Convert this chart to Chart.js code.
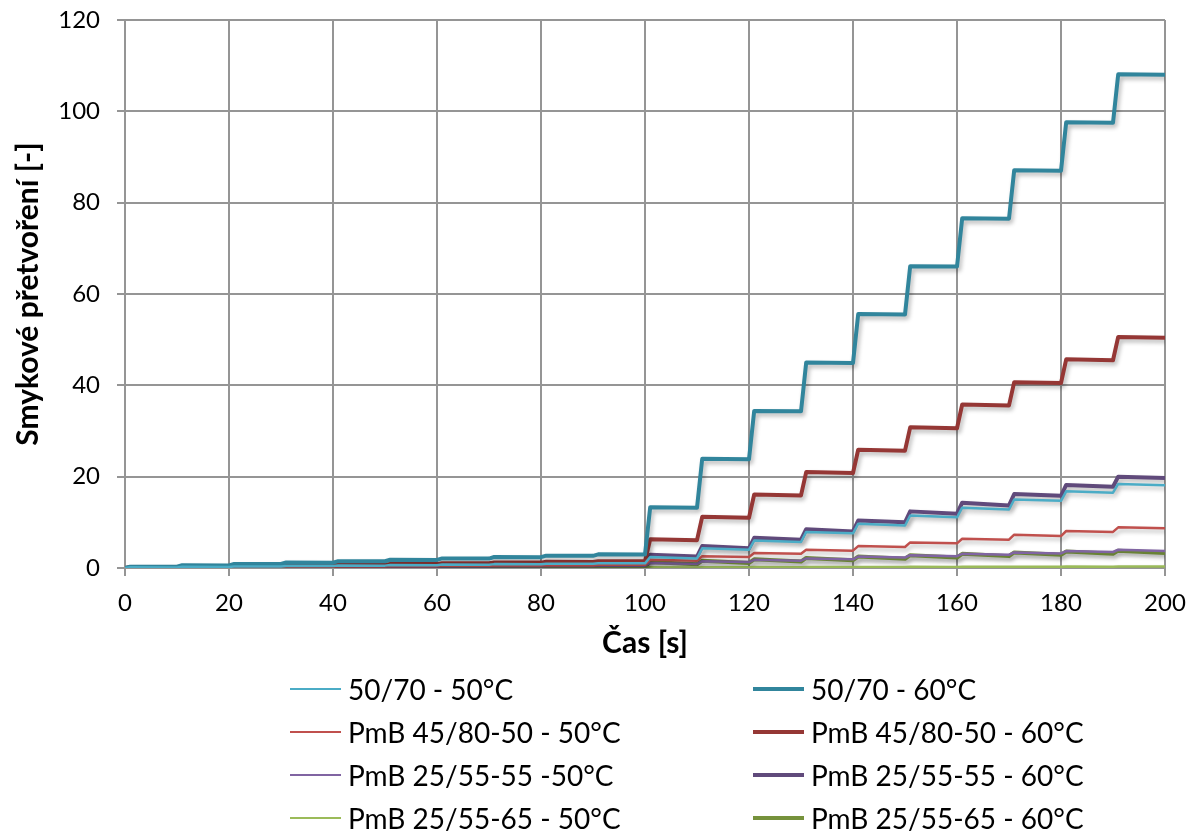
<!DOCTYPE html>
<html>
<head>
<meta charset="utf-8">
<script src="https://cdn.jsdelivr.net/npm/chart.js@4"></script>
<style>
  body { margin: 0; background: #fff; }
  #wrap { position: relative; width: 1188px; height: 834px; }
  .item { position: absolute; height: 40px; display: flex; align-items: center;
          font-family: Lato, "Open Sans", sans-serif; font-size: 28px; color: #000; white-space: nowrap; }
  .item span.ln { display: inline-block; width: 51px; margin-right: 7px; }
</style>
</head>
<body>
<div id="wrap">
  <canvas id="mscrChart" width="1188" height="834"></canvas>
  <div id="legend"></div>
</div>
<script>
// start of each 10 s cycle (1 s creep, 9 s recovery)
const cycleStart = [0, 10, 20, 30, 40, 50, 60, 70, 80, 90, 100, 110, 120, 130, 140, 150, 160, 170, 180, 190];

const names = [
    '50/70 - 50°C', '50/70 - 60°C',
    'PmB 45/80-50 - 50°C', 'PmB 45/80-50 - 60°C',
    'PmB 25/55-55 -50°C', 'PmB 25/55-55 - 60°C',
    'PmB 25/55-65 - 50°C', 'PmB 25/55-65 - 60°C'
];
const colors = ['#4BACC6', '#31859C', '#C0504D', '#953735', '#8064A2', '#604A7B', '#9BBB59', '#76923C'];
const widths = [2.5, 4, 2.5, 4, 2.5, 4, 2.5, 4];

// peak strain at end of creep / strain at end of recovery, per cycle
const peak5070_50 = [0.15, 0.25, 0.35, 0.45, 0.55, 0.65, 0.75, 0.85, 0.95, 1.05, 2.4, 4.3, 6.0, 7.9, 9.7, 11.5, 13.2, 15.0, 16.8, 18.4];
const end5070_50 = [0.12, 0.22, 0.32, 0.42, 0.52, 0.62, 0.72, 0.82, 0.92, 1.02, 2.1, 4.0, 5.7, 7.6, 9.3, 11.1, 12.8, 14.7, 16.5, 18.1];

const peak5070_60 = [0.3, 0.6, 0.9, 1.2, 1.5, 1.8, 2.1, 2.4, 2.7, 3.0, 13.3, 23.9, 34.4, 45.0, 55.6, 66.1, 76.6, 87.1, 97.6, 108.1];
const end5070_60 = [0.28, 0.57, 0.87, 1.17, 1.47, 1.77, 2.07, 2.37, 2.67, 2.97, 13.2, 23.8, 34.3, 44.9, 55.5, 66.0, 76.5, 87.0, 97.5, 108.0];

const peak4580_50 = [0.07, 0.14, 0.21, 0.28, 0.35, 0.42, 0.49, 0.56, 0.63, 0.7, 1.8, 2.6, 3.3, 4.0, 4.8, 5.6, 6.4, 7.3, 8.1, 8.9];
const end4580_50 = [0.06, 0.13, 0.2, 0.27, 0.34, 0.41, 0.48, 0.55, 0.62, 0.69, 1.6, 2.4, 3.1, 3.8, 4.6, 5.4, 6.2, 7.0, 7.9, 8.7];

const peak4580_60 = [0.15, 0.3, 0.45, 0.6, 0.75, 0.9, 1.05, 1.2, 1.35, 1.5, 6.3, 11.2, 16.1, 21.0, 25.9, 30.8, 35.8, 40.7, 45.7, 50.6];
const end4580_60 = [0.13, 0.28, 0.43, 0.58, 0.73, 0.88, 1.03, 1.18, 1.33, 1.48, 6.1, 11.0, 15.9, 20.8, 25.7, 30.6, 35.6, 40.5, 45.5, 50.4];

const peak2555_50 = [0.05, 0.1, 0.15, 0.2, 0.25, 0.3, 0.35, 0.4, 0.45, 0.5, 1.1, 1.5, 1.8, 2.1, 2.5, 2.8, 3.1, 3.4, 3.7, 4.0];
const end2555_50 = [0.04, 0.09, 0.14, 0.19, 0.24, 0.29, 0.34, 0.39, 0.44, 0.49, 0.9, 1.3, 1.6, 1.9, 2.3, 2.6, 2.9, 3.2, 3.5, 3.7];

const peak2555_60 = [0.1, 0.2, 0.3, 0.4, 0.5, 0.6, 0.7, 0.8, 0.9, 1.0, 2.9, 4.8, 6.6, 8.5, 10.4, 12.4, 14.3, 16.2, 18.2, 20.0];
const end2555_60 = [0.09, 0.19, 0.29, 0.39, 0.49, 0.59, 0.69, 0.79, 0.89, 0.99, 2.5, 4.3, 6.2, 8.0, 10.0, 11.9, 13.7, 15.8, 17.8, 19.7];

const peak2565_50 = [0.01, 0.02, 0.03, 0.04, 0.05, 0.06, 0.07, 0.08, 0.09, 0.1, 0.15, 0.18, 0.2, 0.22, 0.24, 0.26, 0.28, 0.3, 0.32, 0.34];
const end2565_50 = [0.01, 0.02, 0.03, 0.04, 0.05, 0.06, 0.07, 0.08, 0.09, 0.1, 0.13, 0.16, 0.18, 0.2, 0.22, 0.24, 0.26, 0.28, 0.3, 0.32];

const peak2565_60 = [0.03, 0.06, 0.09, 0.12, 0.15, 0.18, 0.21, 0.24, 0.27, 0.3, 1.3, 1.6, 1.9, 2.2, 2.5, 2.8, 3.1, 3.4, 3.6, 3.8];
const end2565_60 = [0.02, 0.05, 0.08, 0.11, 0.14, 0.17, 0.2, 0.23, 0.26, 0.29, 0.8, 1.1, 1.4, 1.7, 2.0, 2.3, 2.6, 2.9, 3.1, 3.3];

const xTicks = [0, 20, 40, 60, 80, 100, 120, 140, 160, 180, 200];
const yTicks = [0, 20, 40, 60, 80, 100, 120];

const peaks = [peak5070_50, peak5070_60, peak4580_50, peak4580_60, peak2555_50, peak2555_60, peak2565_50, peak2565_60];
const ends = [end5070_50, end5070_60, end4580_50, end4580_60, end2555_50, end2555_60, end2565_50, end2565_60];

function buildPoints(peak, end) {
    const pts = [{x: 0, y: 0}];
    cycleStart.forEach((t, i) => {
        pts.push({x: t + 1, y: peak[i]});
        pts.push({x: t + 10, y: end[i]});
    });
    return pts;
}

const datasets = names.map((n, i) => ({
    label: n,
    data: buildPoints(peaks[i], ends[i]),
    borderColor: colors[i],
    backgroundColor: colors[i],
    borderWidth: widths[i],
    pointRadius: 0,
    tension: 0,
    borderJoinStyle: 'round',
    fill: false
}));

const shadow = {
    id: 'shadow',
    beforeDatasetsDraw(chart) {
        const c = chart.ctx;
        c.save();
        c.shadowColor = 'rgba(0,0,0,0.28)';
        c.shadowBlur = 4;
        c.shadowOffsetX = 2;
        c.shadowOffsetY = 3;
    },
    afterDatasetsDraw(chart) {
        chart.ctx.restore();
    }
};

const gridColor = '#959595';
const font = 'Lato, "Open Sans", sans-serif';

const ctx = document.getElementById('mscrChart').getContext('2d');
const chart = new Chart(ctx, {
    type: 'line',
    data: { datasets: datasets },
    plugins: [shadow],
    options: {
        responsive: false,
        animation: false,
        layout: { padding: { left: 0, right: 23, top: 20, bottom: 173 } },
        plugins: { legend: { display: false }, tooltip: { enabled: false } },
        scales: {
            x: {
                type: 'linear',
                min: 0, max: 200,
                afterBuildTicks: s => { s.ticks = xTicks.map(v => ({value: v})); },
                afterFit: s => { s.height = 93; s.paddingLeft = 0; s.paddingRight = 0; },
                grid: { color: gridColor, lineWidth: 2, tickLength: 8 },
                border: { color: gridColor, width: 2 },
                ticks: { color: '#000', padding: 13, font: { family: font, size: 24 } },
                title: { display: true, text: 'Čas [s]', color: '#000', padding: { top: 0, bottom: 0 },
                         font: { family: font, size: 30, weight: 'bold' } }
            },
            y: {
                min: 0, max: 120,
                afterBuildTicks: s => { s.ticks = yTicks.map(v => ({value: v})); },
                afterFit: s => { s.width = 125; s.paddingTop = 0; s.paddingBottom = 0; },
                grid: { color: gridColor, lineWidth: 2, tickLength: 8 },
                border: { color: gridColor, width: 2 },
                ticks: { color: '#000', padding: 17, font: { family: font, size: 24 } },
                title: { display: true, text: 'Smykové přetvoření [-]', color: '#000', padding: { top: 10, bottom: 0 },
                         font: { family: font, size: 30, weight: 'bold' } }
            }
        }
    }
});

// two-column legend under the plot
const legend = document.getElementById('legend');
const rowY = [689, 732, 775, 818];
const colX = [290, 753];
names.forEach((n, i) => {
    const d = document.createElement('div');
    d.className = 'item';
    d.style.left = colX[i % 2] + 'px';
    d.style.top = (rowY[Math.floor(i / 2)] - 20) + 'px';
    d.innerHTML = '<span class="ln" style="height:' + widths[i] + 'px;background:' + colors[i] + '"></span>' + n;
    legend.appendChild(d);
});
</script>
</body>
</html>
